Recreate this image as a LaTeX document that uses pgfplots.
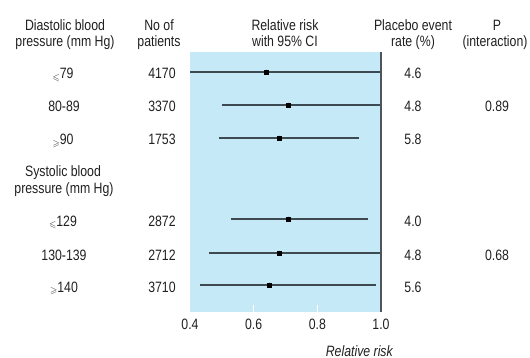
\documentclass[border=0pt]{standalone}
\usepackage{pgfplots}
\pgfplotsset{compat=1.18}
\usepackage{pgfplotstable}
\usepackage{amssymb}
\usepackage{graphicx}
\usepackage{fontspec}
\setmainfont{Liberation Sans}[FakeStretch=0.82]
\definecolor{bgblue}{RGB}{198,233,248}
\definecolor{cil}{RGB}{62,74,82}
\definecolor{vline}{RGB}{80,85,90}
\definecolor{txt}{RGB}{32,32,32}

\pgfplotstableread{
y   lo    est   hi    ms
72  0.40  0.64  1.00  2.8
105 0.50  0.71  1.00  2.3
138 0.49  0.68  0.93  2.0
219 0.53  0.71  0.96  2.5
253 0.46  0.68  1.00  2.3
285 0.43  0.65  0.985 3.0
}\rr

\newcommand{\lsl}{\raisebox{-1.5pt}{\scalebox{0.62}{$\leqslant$}}}
\newcommand{\gsl}{\raisebox{-1.5pt}{\scalebox{0.62}{$\geqslant$}}}

\begin{document}
\fontsize{15}{17}\selectfont
\begin{tikzpicture}[x=1pt,y=-1pt,tx/.style={anchor=base,text=txt,inner sep=0pt}]
\useasboundingbox (0,0) rectangle (530,358);
\begin{axis}[
  at={(190pt,-312pt)}, anchor=south west,
  width=191pt, height=260pt, scale only axis,
  xmin=0.4, xmax=1.0, ymin=52, ymax=312, y dir=reverse,
  axis background/.style={fill=bgblue},
  axis line style={draw=none},
  ytick=\empty,
  xtick={0.4,0.6,0.8,1.0},
  x tick label style={/pgf/number format/.cd, fixed, fixed zerofill, precision=1, /tikz/.cd, text=txt, yshift=-2pt},
  /pgf/number format/assume math mode=true,
  major tick length=0pt,
  extra x ticks={0.6,0.8}, extra x tick labels={},
  extra x tick style={major tick length=7pt, tick style={white, line width=1.5pt}, tick align=inside},
  tick pos=lower,
  clip=false,
]
\addplot[only marks, mark=none, forget plot,
  error bars/.cd, x dir=both, x explicit, error mark=none,
  error bar style={cil, line width=1.3pt}]
  table[x=est, y=y, x error plus expr=\thisrow{hi}-\thisrow{est}, x error minus expr=\thisrow{est}-\thisrow{lo}]{\rr};
\addplot[vline, line width=1.6pt] coordinates {(1,52) (1,312)};
\addplot[scatter, only marks, mark=square*, draw=black, fill=black,
  visualization depends on={\thisrow{ms} \as \msz},
  scatter/@pre marker code/.append style={/tikz/mark size=\msz pt},
  scatter/use mapped color={draw=black, fill=black}]
  table[x=est, y=y]{\rr};
\end{axis}
% headers
\node[tx] at (65,31) {Diastolic blood};
\node[tx] at (65,47) {pressure (mm Hg)};
\node[tx] at (159,31) {No of};
\node[tx] at (159,47) {patients};
\node[tx] at (285,31) {Relative risk};
\node[tx] at (285,47) {with 95\% CI};
\node[tx] at (413,31) {Placebo event};
\node[tx] at (413,47) {rate (\%)};
\node[tx] at (497,31) {P};
\node[tx] at (495,47) {(interaction)};
% rows
\node[tx] at (63,79) {\lsl79};
\node[tx] at (64,112) {80-89};
\node[tx] at (63,145) {\gsl90};
\node[tx] at (63,177) {Systolic blood};
\node[tx] at (64,194) {pressure (mm Hg)};
\node[tx] at (63,226) {\lsl129};
\node[tx] at (64,260) {130-139};
\node[tx] at (64,292) {\gsl140};
\node[tx] at (162,79) {4170};
\node[tx] at (162,112) {3370};
\node[tx] at (162,145) {1753};
\node[tx] at (162,226) {2872};
\node[tx] at (162,260) {2712};
\node[tx] at (162,292) {3710};
\node[tx] at (413,79) {4.6};
\node[tx] at (413,112) {4.8};
\node[tx] at (413,145) {5.8};
\node[tx] at (413,226) {4.0};
\node[tx] at (413,260) {4.8};
\node[tx] at (413,292) {5.6};
\node[tx] at (497,112) {0.89};
\node[tx] at (497,260) {0.68};
\node[tx,anchor=base east] at (393,356) {\itshape Relative risk};
\end{tikzpicture}
\end{document}
